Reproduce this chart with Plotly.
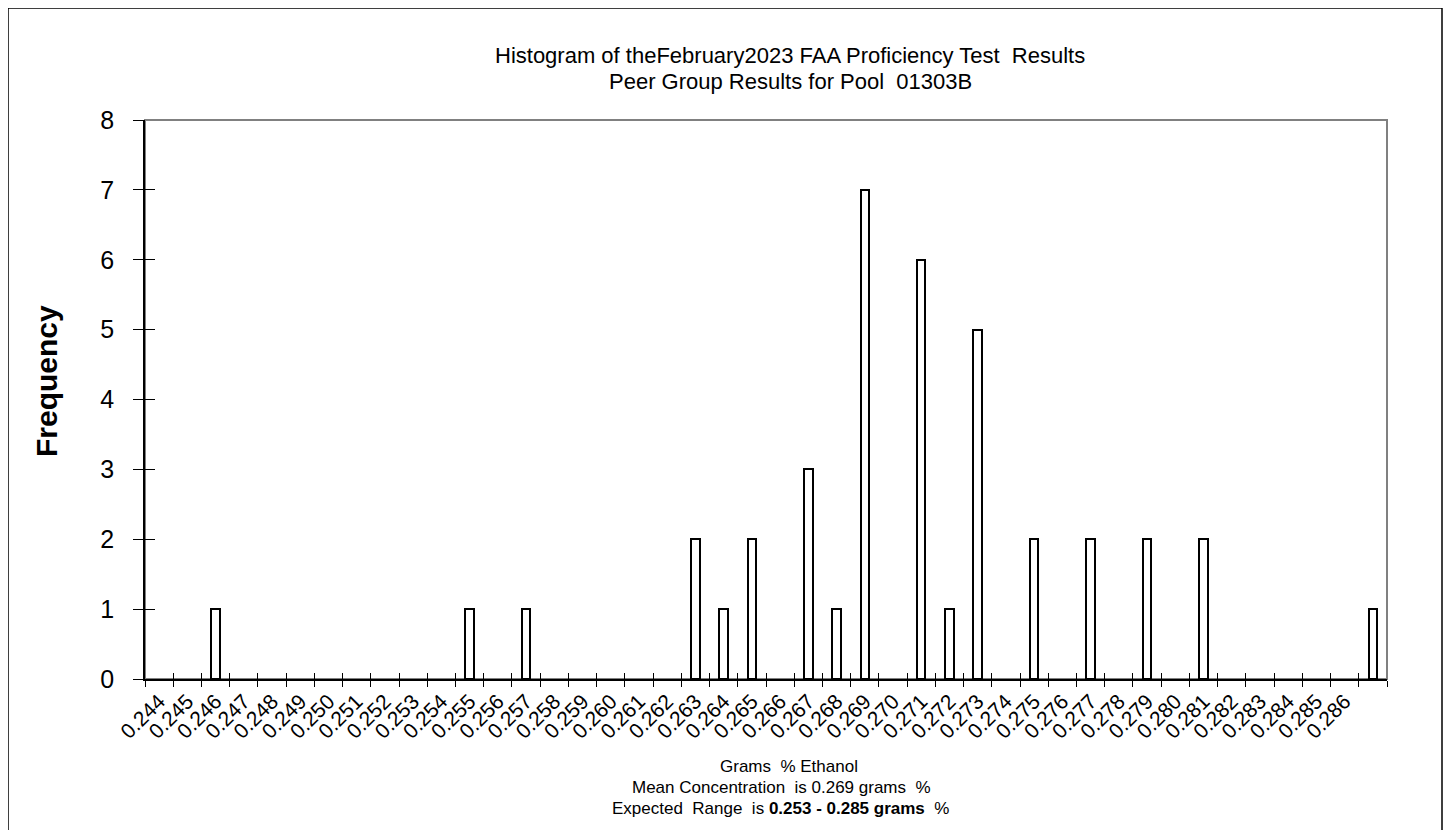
import plotly.graph_objects as go

bin_labels = ["0.244", "0.245", "0.246", "0.247", "0.248", "0.249", "0.250", "0.251",
              "0.252", "0.253", "0.254", "0.255", "0.256", "0.257", "0.258", "0.259",
              "0.260", "0.261", "0.262", "0.263", "0.264", "0.265", "0.266", "0.267",
              "0.268", "0.269", "0.270", "0.271", "0.272", "0.273", "0.274", "0.275",
              "0.276", "0.277", "0.278", "0.279", "0.280", "0.281", "0.282", "0.283",
              "0.284", "0.285", "0.286", ""]
frequency = [0, 0, 1, 0, 0, 0, 0, 0,
             0, 0, 0, 1, 0, 1, 0, 0,
             0, 0, 0, 2, 1, 2, 0, 3,
             1, 7, 0, 6, 1, 5, 0, 2,
             0, 2, 0, 2, 0, 2, 0, 0,
             0, 0, 0, 1]

title_lines = ["Histogram of theFebruary2023 FAA Proficiency Test  Results",
               "Peer Group Results for Pool  01303B"]
xlabel_lines = ["Grams  % Ethanol",
                "Mean Concentration  is 0.269 grams  %",
                "Expected  Range  is <b>0.253 - 0.285 grams</b>  %"]

OFF = 8  # page body margin
W, H = 1445, 822
L, R, T, B = 137, 66, 112, 151
PW, PH = W - L - R, H - T - B

def px_x(sx):
    return (sx - OFF - L) / PW

def px_y(sy):
    return (H - B - (sy - OFF)) / PH

idx = list(range(len(frequency)))
bar_vals = [v if v > 0 else None for v in frequency]

font = "Arial, Liberation Sans, sans-serif"

fig = go.Figure()
fig.add_trace(go.Bar(
    x=idx, y=bar_vals, width=0.3,
    marker=dict(color="white", line=dict(color="black", width=2)),
    showlegend=False, cliponaxis=False,
))
# invisible trace on the overlay axes so that their inner tick marks are drawn
fig.add_trace(go.Scatter(x=[idx[0]], y=[0], xaxis="x2", yaxis="y2",
                         mode="markers", marker=dict(opacity=0),
                         showlegend=False, hoverinfo="skip"))

xr = [-0.5, len(frequency) - 0.5]
yr = [0, 8]

fig.update_layout(
    width=W, height=H,
    margin=dict(l=L, r=R, t=T, b=B),
    paper_bgcolor="white", plot_bgcolor="white",
    font=dict(family=font, color="black"),
    bargap=0,
    xaxis=dict(
        range=xr,
        tickmode="array",
        tickvals=idx[:len(bin_labels) - 1],
        ticktext=bin_labels[:-1],
        tickangle=-45,
        ticks="",
        tickfont=dict(size=21, color="black", family=font),
        showline=True, linecolor="black", linewidth=1.5,
        showgrid=False, zeroline=False,
        minor=dict(tickmode="linear", tick0=-0.5, dtick=1, ticks="outside",
                   ticklen=6, tickcolor="black", tickwidth=1, showgrid=False),
    ),
    xaxis2=dict(
        range=xr, overlaying="x", side="bottom", showticklabels=False,
        tickmode="linear", tick0=-0.5, dtick=1, ticks="inside", ticklen=6,
        tickcolor="black", tickwidth=1, showline=False, showgrid=False, zeroline=False,
    ),
    yaxis=dict(
        range=yr, dtick=1, tick0=0,
        ticks="outside", ticklen=10, tickcolor="black", tickwidth=1,
        tickfont=dict(size=25, color="black", family=font),
        ticklabelstandoff=14,
        showline=True, linecolor="black", linewidth=1.5,
        showgrid=False, zeroline=False,
    ),
    yaxis2=dict(
        range=yr, overlaying="y", side="left", showticklabels=False,
        dtick=1, tick0=0, ticks="inside", ticklen=10, tickcolor="black", tickwidth=1,
        showline=False, showgrid=False, zeroline=False,
    ),
    shapes=[
        dict(type="rect", xref="x domain", yref="y domain", x0=0, x1=1, y0=0, y1=1,
             line=dict(color="#808080", width=2), layer="below"),
        dict(type="rect", xref="paper", yref="paper",
             x0=px_x(8), x1=px_x(1442), y0=px_y(900), y1=px_y(8),
             line=dict(color="black", width=1.5)),
    ],
    annotations=[
        dict(text=title_lines[0], xref="paper", yref="paper", x=px_x(790), y=px_y(55),
             xanchor="center", yanchor="middle", showarrow=False,
             font=dict(size=22, color="black", family=font)),
        dict(text=title_lines[1], xref="paper", yref="paper", x=px_x(790), y=px_y(81),
             xanchor="center", yanchor="middle", showarrow=False,
             font=dict(size=22, color="black", family=font)),
        dict(text="Frequency", xref="paper", yref="paper", x=px_x(46), y=px_y(381),
             xanchor="center", yanchor="middle", showarrow=False, textangle=-90,
             font=dict(size=30, color="black", family=font, weight="bold")),
        dict(text=xlabel_lines[0], xref="paper", yref="paper", x=px_x(789), y=px_y(766),
             xanchor="center", yanchor="middle", showarrow=False,
             font=dict(size=17, color="black", family=font)),
        dict(text=xlabel_lines[1], xref="paper", yref="paper", x=px_x(781), y=px_y(787),
             xanchor="center", yanchor="middle", showarrow=False,
             font=dict(size=17, color="black", family=font)),
        dict(text=xlabel_lines[2], xref="paper", yref="paper", x=px_x(780), y=px_y(808),
             xanchor="center", yanchor="middle", showarrow=False,
             font=dict(size=17, color="black", family=font)),
    ],
)

fig.write_html("out.html")
